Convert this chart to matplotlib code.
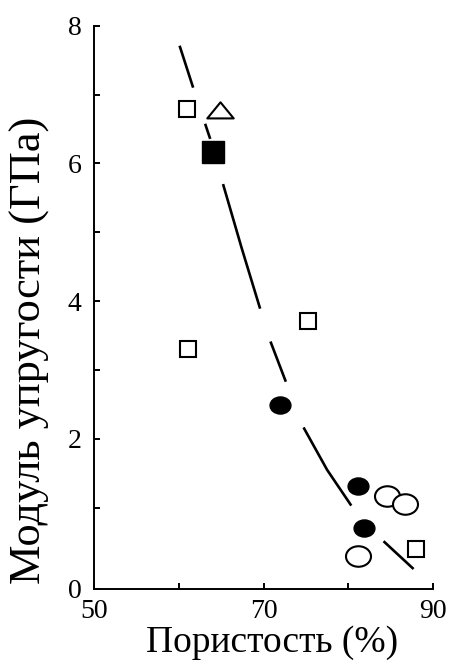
import numpy as np
import matplotlib
matplotlib.use("Agg")
import matplotlib.pyplot as plt
from matplotlib.path import Path
from matplotlib.transforms import Affine2D

# Fuente tipo Times y trazos sin escalar con el grosor de la linea
plt.rcParams['font.family'] = ['Liberation Serif', 'DejaVu Serif']
plt.rcParams['lines.scale_dashes'] = False

# Datos: porosidad (%) y modulo de elasticidad (GPa)
por_open_sq = [61.0, 61.1, 75.2, 88.0]
mod_open_sq = [6.79, 3.30, 3.71, 0.40]

por_tri = [64.9]
mod_tri = [6.77]

por_fill_sq = [64.0]
mod_fill_sq = [6.16]

por_fill_circ = [72.0, 81.1, 81.8]
mod_fill_circ = [2.49, 1.31, 0.70]

por_open_circ = [84.6, 86.7, 81.1]
mod_open_circ = [1.17, 1.05, 0.30]

# Curva de tendencia (puntos tomados sobre la linea discontinua)
curve_x = [60.1, 61.7, 63.1, 63.7, 65.2, 67.4, 69.6, 70.8, 72.6, 74.7,
           77.5, 80.3, 84.1, 87.7]
curve_y = [7.71, 7.10, 6.58, 6.36, 5.71, 4.78, 3.89, 3.42, 2.84, 2.17,
           1.55, 1.04, 0.52, 0.11]

x_ticks = [50, 60, 70, 80, 90]
x_labels = ['50', '', '70', '', '90']
y_labels = ['0', '2', '4', '6', '8']

# Marcadores: elipse (circulo achatado) y triangulo ancho
ellipse = Path.unit_circle().transformed(Affine2D().scale(1.0, 0.82))
wide_tri = Path([(-1, -0.6), (1, -0.6), (0, 0.62), (-1, -0.6)],
                [Path.MOVETO, Path.LINETO, Path.LINETO, Path.CLOSEPOLY])

fig = plt.figure(figsize=(4.53, 6.61), dpi=100)
ax = fig.add_axes([0.2075, 0.109, 0.7485, 0.852])

y_bottom = -0.18
ax.set_xlim(50, 90)
ax.set_ylim(y_bottom, 8)

# linea discontinua irregular (en puntos)
dashes = (0, (31.7, 27.4, 11.5, 33.8, 93.6, 24.8, 31.0, 35.3, 66.0, 34.6, 30.1, 36.0))
ax.plot(curve_x, curve_y, color='black', lw=1.9, linestyle=dashes,
        dash_capstyle='butt', zorder=2)

ax.plot(por_open_sq, mod_open_sq, linestyle='none', marker='s', ms=12,
        mfc='white', mec='black', mew=1.5, zorder=3)
ax.plot(por_tri, mod_tri, linestyle='none', marker=wide_tri, ms=19,
        mfc='white', mec='black', mew=1.5, zorder=3)
ax.plot(por_fill_sq, mod_fill_sq, linestyle='none', marker='s', ms=15.5,
        mfc='black', mec='black', mew=1.0, zorder=3)
ax.plot(por_fill_circ, mod_fill_circ, linestyle='none', marker=ellipse, ms=15,
        mfc='black', mec='black', mew=1.0, zorder=3)
ax.plot(por_open_circ, mod_open_circ, linestyle='none', marker=ellipse, ms=18,
        mfc='white', mec='black', mew=1.5, zorder=3)

# ejes: solo izquierda y abajo, marcas hacia dentro
ax.spines['top'].set_visible(False)
ax.spines['right'].set_visible(False)
ax.spines['left'].set_linewidth(1.4)
ax.spines['bottom'].set_linewidth(1.4)

ax.set_xticks(x_ticks)
ax.set_xticklabels(x_labels)
ax.set_yticks([y_bottom, 2, 4, 6, 8])
ax.set_yticklabels(y_labels)
ax.set_yticks([1, 3, 5, 7], minor=True)
ax.tick_params(which='both', direction='in', length=4, width=1.4,
               labelsize=20)
ax.tick_params(axis='x', pad=7)
ax.tick_params(axis='y', pad=9)

ax.set_xlabel('Пористость (%)', fontsize=27)
ax.set_ylabel('Модуль упругости (ГПа)', fontsize=32)
ax.xaxis.set_label_coords(0.524, -0.064)
ax.yaxis.set_label_coords(-0.13, 0.4245)

fig.savefig('out.png', dpi=100)
